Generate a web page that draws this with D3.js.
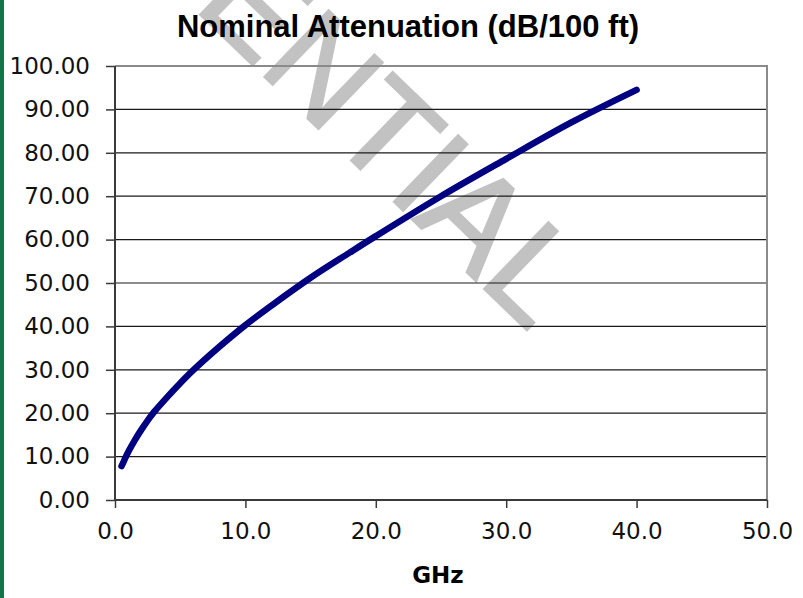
<!DOCTYPE html>
<html>
<head>
<meta charset="utf-8">
<script src="https://cdn.jsdelivr.net/npm/d3@7"></script>
<style>
  html, body { margin: 0; padding: 0; background: #fff; }
  svg { display: block; }
</style>
</head>
<body>
<script>
// values
var freqGHz = [0.5, 0.75, 1, 1.5, 2, 2.5, 3, 4, 5, 6, 8, 10, 12, 15, 18, 20, 25, 30, 35, 40];
var attenuation = [7.8, 9.4, 11.0, 13.7, 16.1, 18.3, 20.3, 23.7, 26.9, 29.9, 35.3, 40.3, 44.8, 51.2, 57.0, 60.8, 70.0, 78.6, 87.0, 94.5];
var yTicks = [0, 10, 20, 30, 40, 50, 60, 70, 80, 90, 100];
var xTicks = [0, 10, 20, 30, 40, 50];

var width = 803, height = 598;
var plotLeft = 115, plotRight = 767, plotTop = 66, plotBottom = 500;

var svg = d3.select("body").append("svg")
	.attr("width", width)
	.attr("height", height);

svg.append("rect").attr("width", width).attr("height", height).attr("fill", "#fff");

// green strip on the left
svg.append("rect")
	.attr("x", 0).attr("y", 0)
	.attr("width", 4).attr("height", height)
	.attr("fill", "#107548");

// watermark
svg.append("text")
	.attr("transform", "translate(530,333) rotate(44)")
	.attr("text-anchor", "end")
	.style("font-family", "Liberation Sans, Arial, sans-serif")
	.style("font-size", "134px")
	.attr("fill", "#c2c2c2")
	.attr("stroke", "#c2c2c2")
	.attr("stroke-width", 2.5)
	.text("CONFIDENTIAL");

var x = d3.scaleLinear().domain([0, 50]).range([plotLeft, plotRight]);
var y = d3.scaleLinear().domain([0, 100]).range([plotBottom, plotTop]);

// gridlines
svg.append("g").selectAll("line").data(yTicks.filter(function(d){return d > 0 && d < 100;}))
	.enter().append("line")
	.attr("x1", plotLeft).attr("x2", plotRight)
	.attr("y1", function(d){return y(d);})
	.attr("y2", function(d){return y(d);})
	.attr("stroke", "#1a1a1a")
	.attr("stroke-width", 1.2);

// top + right border
svg.append("path")
	.attr("d", "M" + plotLeft + "," + y(100) + "H" + x(50) + "V" + plotBottom)
	.attr("fill", "none")
	.attr("stroke", "#8a8a8a")
	.attr("stroke-width", 2);

var fmtY = d3.format(".2f"), fmtX = d3.format(".1f");

var yAxis = svg.append("g")
	.attr("transform", "translate(" + plotLeft + ",0)")
	.call(d3.axisLeft(y).tickValues(yTicks).tickFormat(fmtY).tickSize(9).tickPadding(16));

var xAxis = svg.append("g")
	.attr("transform", "translate(0," + plotBottom + ")")
	.call(d3.axisBottom(x).tickValues(xTicks).tickFormat(fmtX).tickSize(8).tickPadding(15));

[yAxis, xAxis].forEach(function(ax) {
	ax.select(".domain").attr("stroke", "#3a3a3a").attr("stroke-width", 2);
	ax.selectAll(".tick line").attr("stroke", "#3a3a3a").attr("stroke-width", 1.5);
	ax.selectAll(".tick text")
		.attr("fill", "#111")
		.style("font-family", "DejaVu Sans, Verdana, sans-serif")
		.style("font-size", "23px");
});
yAxis.select(".domain").attr("d", "M0," + plotBottom + "V" + plotTop);
xAxis.select(".domain").attr("d", "M" + plotLeft + ",0H" + plotRight);
xAxis.selectAll(".tick text").attr("dy", "0.71em");

// curve
var line = d3.line()
	.x(function(d, i){return x(freqGHz[i]);})
	.y(function(d){return y(d);})
	.curve(d3.curveCatmullRom.alpha(0.5));

svg.append("path")
	.datum(attenuation)
	.attr("d", line)
	.attr("fill", "none")
	.attr("stroke", "#000080")
	.attr("stroke-width", 6.5)
	.attr("stroke-linecap", "round")
	.attr("stroke-linejoin", "round");

// title and axis title
svg.append("text")
	.attr("x", 408).attr("y", 37)
	.attr("text-anchor", "middle")
	.style("font-family", "Liberation Sans, Arial, sans-serif")
	.style("font-weight", "bold")
	.style("font-size", "31px")
	.attr("fill", "#000")
	.text("Nominal Attenuation (dB/100 ft)");

svg.append("text")
	.attr("x", 438).attr("y", 583)
	.attr("text-anchor", "middle")
	.style("font-family", "DejaVu Sans, Verdana, sans-serif")
	.style("font-weight", "bold")
	.style("font-size", "23px")
	.attr("fill", "#000")
	.text("GHz");
</script>
</body>
</html>
